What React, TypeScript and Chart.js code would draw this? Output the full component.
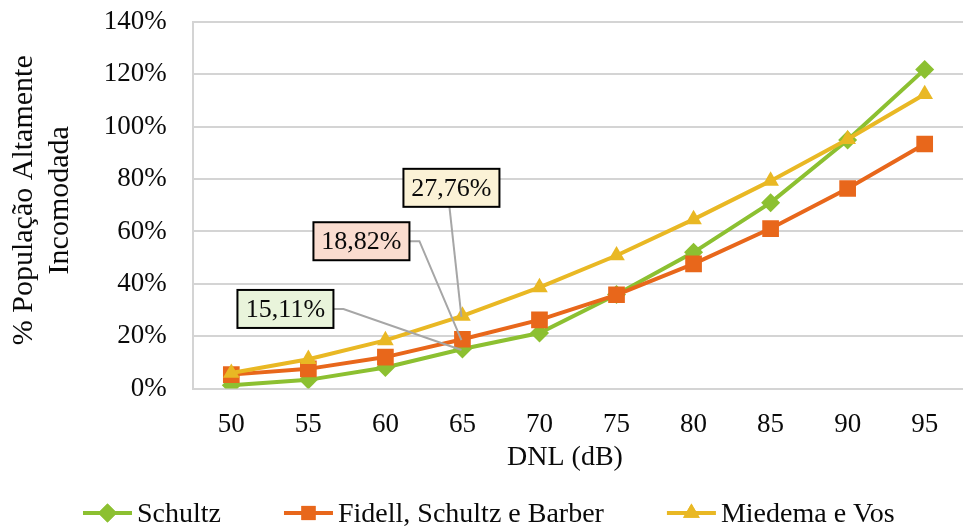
import { useEffect, useRef } from "react";
import { Chart, registerables } from "chart.js";
import { drawPoint } from "chart.js/helpers";

Chart.register(...registerables);

// Noise level categories (DNL, dB)
const dnlLevels = ["50", "55", "60", "65", "70", "75", "80", "85", "90", "95"];

// % of highly annoyed population for each dose-response curve
const schultz = [1.2, 3.3, 8.0, 15.11, 21.2, 35.9, 52.0, 71.0, 94.9, 121.9];
const fidellSchultzBarber = [5.3, 7.5, 12.0, 18.82, 26.2, 35.8, 47.6, 61.1, 76.4, 93.4];
const miedemaVos = [5.9, 11.2, 18.4, 27.76, 38.6, 50.8, 64.6, 79.3, 95.2, 112.4];

const seriesNames = ["Schultz", "Fidell, Schultz e Barber", "Miedema e Vos"];
const yAxisMax = 140;
const yAxisStep = 20;
const yTitleLines = ["% População Altamente", "Incomodada"];
const xTitle = "DNL (dB)";
// Category whose values are called out in boxes
const calloutIndex = 3;

const SERIF = "'Liberation Serif', 'Times New Roman', serif";
const GREEN = "#8cc031";
const ORANGE = "#e8671b";
const GOLD = "#e9b824";
const GRID = "#d4d4d4";
const TEXT = "#0a0a0a";

const seriesStyles = [
  { color: GREEN, pointStyle: "rectRot", radius: 9.5, order: 2, fill: "#e9f4db", dx: -177, dy: -40, anchor: "right" },
  { color: ORANGE, pointStyle: "rect", radius: 11.8, order: 1, fill: "#fadccf", dx: -101, dy: -98, anchor: "right" },
  { color: GOLD, pointStyle: "triangle", radius: 9.6, order: 0, fill: "#fbf2d6", dx: -11, dy: -128, anchor: "bottom" },
];

const fmtPct = (v: number) => v.toFixed(2).replace(".", ",") + "%";

function drawMarker(ctx: CanvasRenderingContext2D, style: string, x: number, y: number, r: number, color: string) {
  ctx.save();
  ctx.fillStyle = color;
  ctx.strokeStyle = color;
  ctx.lineWidth = 0;
  drawPoint(ctx, { pointStyle: style as any, radius: r, rotation: 0, borderWidth: 0 } as any, x, y);
  ctx.fill();
  ctx.restore();
}

const decorPlugin = {
  id: "decor",
  afterDatasetsDraw(chart: any) {
    const ctx: CanvasRenderingContext2D = chart.ctx;
    const boxW = 96;
    const boxH = 38;
    ctx.save();
    chart.data.datasets.forEach((ds: any, i: number) => {
      const st = seriesStyles[i];
      const pt = chart.getDatasetMeta(i).data[calloutIndex];
      const px = pt.x;
      const py = pt.y;
      const cx = px + st.dx;
      const cy = py + st.dy;
      // leader line
      ctx.strokeStyle = "#a6a6a6";
      ctx.lineWidth = 2;
      ctx.beginPath();
      if (st.anchor === "right") {
        ctx.moveTo(cx + boxW / 2, cy);
        ctx.lineTo(cx + boxW / 2 + 10, cy);
      } else {
        ctx.moveTo(cx - 2, cy + boxH / 2);
      }
      ctx.lineTo(px - 1, py + 1);
      ctx.stroke();
      // box
      ctx.fillStyle = st.fill;
      ctx.fillRect(cx - boxW / 2, cy - boxH / 2, boxW, boxH);
      ctx.strokeStyle = "#000";
      ctx.lineWidth = 2;
      ctx.strokeRect(cx - boxW / 2, cy - boxH / 2, boxW, boxH);
      ctx.fillStyle = TEXT;
      ctx.font = `26px ${SERIF}`;
      ctx.textAlign = "center";
      ctx.textBaseline = "middle";
      ctx.fillText(fmtPct(ds.data[calloutIndex]), cx, cy + 1);
    });
    ctx.restore();
  },
  afterDraw(chart: any) {
    const ctx: CanvasRenderingContext2D = chart.ctx;
    const area = chart.chartArea;
    ctx.save();
    ctx.fillStyle = TEXT;

    // y axis title, two rotated lines
    ctx.font = `30px ${SERIF}`;
    ctx.textAlign = "center";
    ctx.textBaseline = "alphabetic";
    const midY = (area.top + area.bottom) / 2 - 5;
    const baselines = [32, 68];
    yTitleLines.forEach((line, k) => {
      ctx.save();
      ctx.translate(baselines[k], midY);
      ctx.rotate(-Math.PI / 2);
      ctx.fillText(line, 0, 0);
      ctx.restore();
    });

    // x axis title
    ctx.font = `28px ${SERIF}`;
    ctx.textAlign = "center";
    ctx.fillText(xTitle, 565, 465);

    // legend: line + marker + name
    ctx.textAlign = "left";
    let x = 83;
    const lineY = 513;
    chart.data.datasets.forEach((ds: any, i: number) => {
      const st = seriesStyles[i];
      ctx.strokeStyle = st.color;
      ctx.lineWidth = 4;
      ctx.beginPath();
      ctx.moveTo(x, lineY);
      ctx.lineTo(x + 49, lineY);
      ctx.stroke();
      drawMarker(ctx, st.pointStyle, x + 24.5, lineY, st.pointStyle === "rect" ? 10 : st.radius, st.color);
      ctx.fillStyle = TEXT;
      ctx.fillText(ds.label, x + 54, 522);
      x += 54 + ctx.measureText(ds.label).width + 63;
    });
    ctx.restore();
  },
};

export default function App() {
  const canvasRef = useRef<HTMLCanvasElement | null>(null);

  useEffect(() => {
    const canvas = canvasRef.current;
    if (!canvas) return;
    const series = [schultz, fidellSchultzBarber, miedemaVos];
    const chart = new Chart(canvas, {
      type: "line",
      data: {
        labels: dnlLevels,
        datasets: series.map((values, i) => ({
          label: seriesNames[i],
          data: values,
          borderColor: seriesStyles[i].color,
          backgroundColor: seriesStyles[i].color,
          pointBackgroundColor: seriesStyles[i].color,
          pointBorderColor: seriesStyles[i].color,
          pointBorderWidth: 0,
          pointStyle: seriesStyles[i].pointStyle as any,
          pointRadius: seriesStyles[i].radius,
          borderWidth: 4,
          tension: 0,
          order: seriesStyles[i].order,
        })),
      },
      options: {
        responsive: false,
        animation: false,
        events: [],
        layout: { padding: { left: 0, right: 4.4, top: 22, bottom: 0 } },
        plugins: {
          legend: { display: false },
          tooltip: { enabled: false },
        },
        scales: {
          x: {
            offset: true,
            grid: { display: false, drawTicks: false },
            border: { display: false },
            ticks: {
              color: TEXT,
              font: { family: SERIF, size: 27 },
              padding: 20,
              maxRotation: 0,
              autoSkip: false,
            },
            afterFit(scale: any) {
              scale.height = 137.5;
            },
          },
          y: {
            min: 0,
            max: yAxisMax,
            grid: { color: GRID, lineWidth: 2, drawTicks: false },
            border: { display: true, color: GRID, width: 2 },
            ticks: {
              stepSize: yAxisStep,
              color: TEXT,
              font: { family: SERIF, size: 27 },
              padding: 26,
              callback: (v: any) => `${v}%`,
            },
            afterFit(scale: any) {
              scale.width = 192.8;
              scale.paddingTop = 0;
              scale.paddingBottom = 0;
            },
          },
        },
      },
      plugins: [decorPlugin],
    });
    return () => chart.destroy();
  }, []);

  return (
    <div style={{ position: "fixed", left: 0, top: 0, width: 963, height: 526, overflow: "hidden", background: "#fff" }}>
      <canvas ref={canvasRef} width={975} height={526} style={{ display: "block", width: 975, height: 526 }} />
    </div>
  );
}
